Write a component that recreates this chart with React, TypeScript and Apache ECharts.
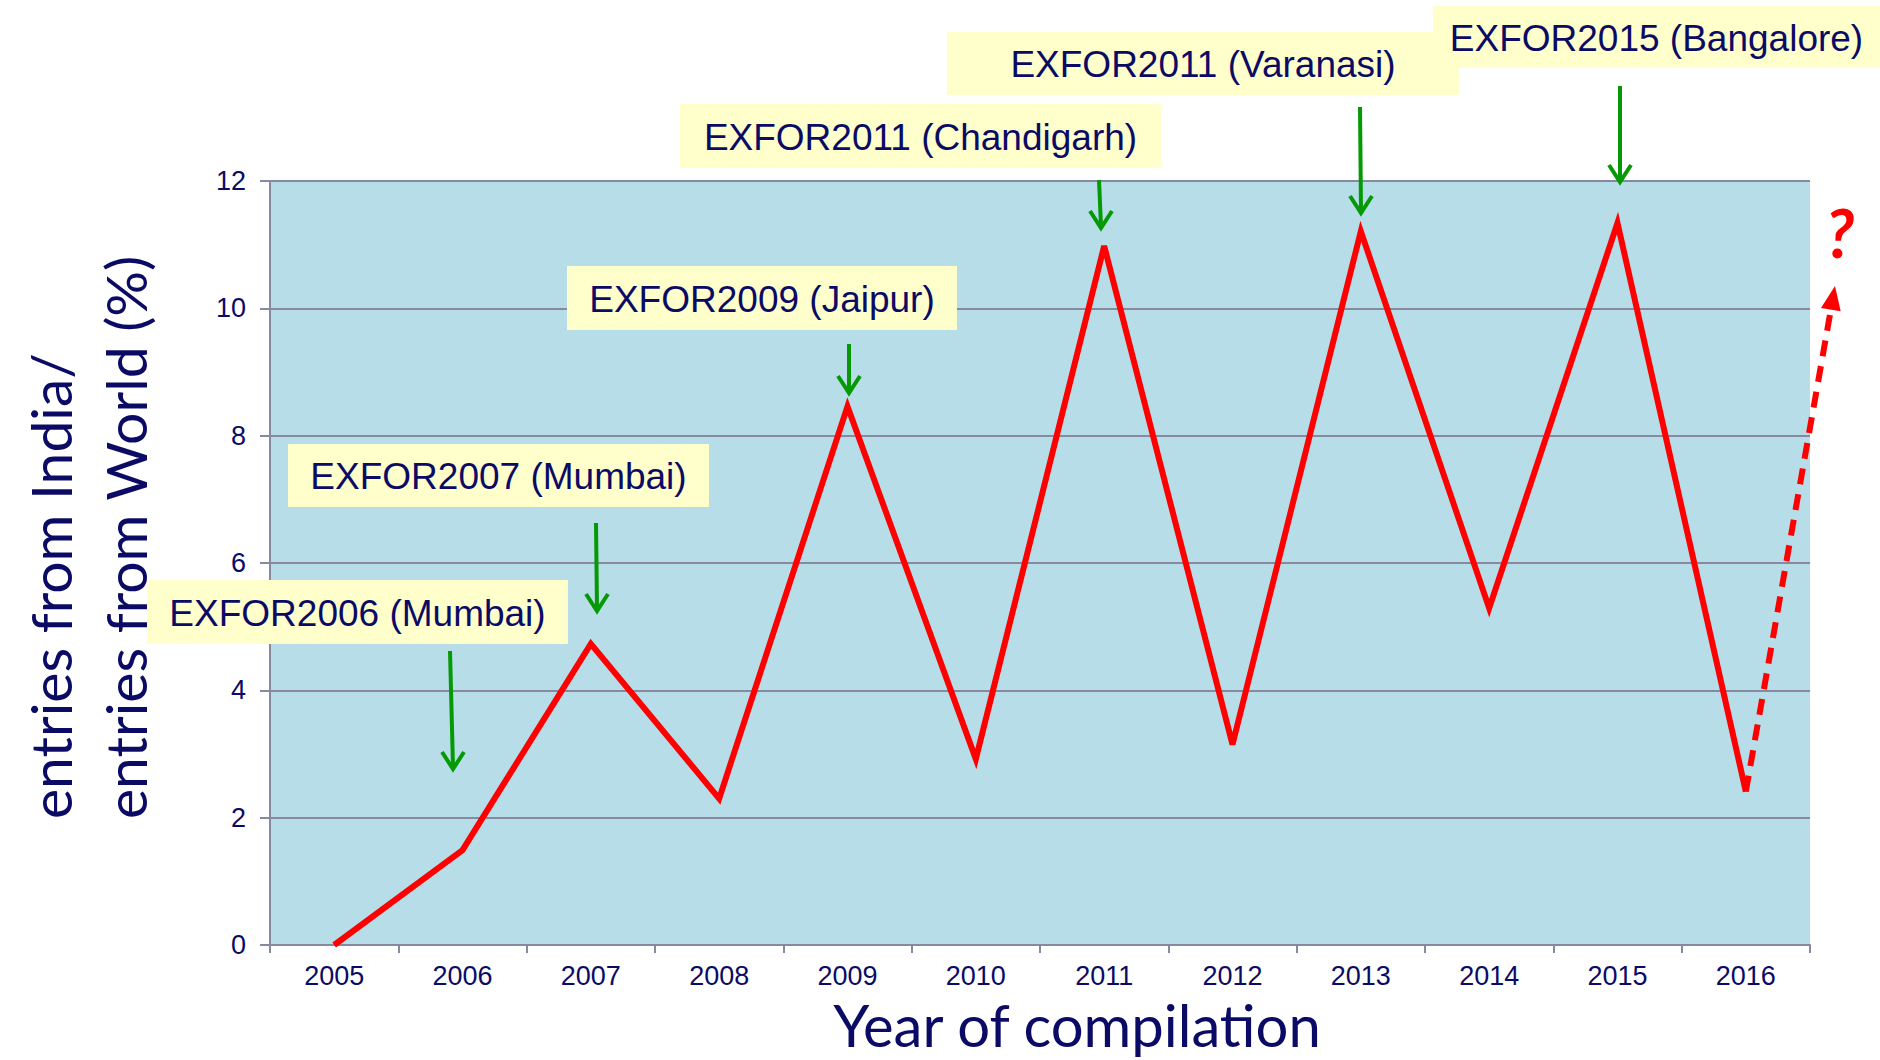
import React, { useEffect, useRef } from "react";
import * as echarts from "echarts";

const years = ["2005", "2006", "2007", "2008", "2009", "2010", "2011", "2012", "2013", "2014", "2015", "2016"];
const ratio = [0, 1.49, 4.73, 2.3, 8.46, 2.92, 10.98, 3.15, 11.21, 5.29, 11.34, 2.41];
const yMin = 0;
const yMax = 12;
const yStep = 2;

const meetingLabels = [
  "EXFOR2006 (Mumbai)",
  "EXFOR2007 (Mumbai)",
  "EXFOR2009 (Jaipur)",
  "EXFOR2011 (Chandigarh)",
  "EXFOR2011 (Varanasi)",
  "EXFOR2015 (Bangalore)",
];

// layout of annotation boxes and arrows (pixels)
const boxes = [
  { x: 147, y: 580, w: 421, h: 64, ax1: 450, ay1: 651, ax2: 453, ay2: 769 },
  { x: 288, y: 444, w: 421, h: 63, ax1: 596, ay1: 523, ax2: 597, ay2: 611 },
  { x: 567, y: 266, w: 390, h: 64, ax1: 849, ay1: 344, ax2: 849, ay2: 393 },
  { x: 680, y: 104, w: 481, h: 64, ax1: 1099, ay1: 180, ax2: 1101, ay2: 228 },
  { x: 947, y: 32, w: 512, h: 63, ax1: 1360, ay1: 107, ax2: 1361, ay2: 213 },
  { x: 1433, y: 6, w: 447, h: 62, ax1: 1620, ay1: 86, ax2: 1620, ay2: 182 },
];

const NAVY = "#0b0b66";
const GRID = "#878a9e";
const GREEN = "#059a05";
const RED = "#ff0000";

export default function App() {
  const ref = useRef<HTMLDivElement>(null);
  useEffect(() => {
    const chart = echarts.init(ref.current!, null, { renderer: "svg" });
    chart.setOption({
      animation: false,
      backgroundColor: "#ffffff",
      grid: {
        left: 270,
        right: 70,
        top: 181,
        bottom: 115,
        show: true,
        backgroundColor: "#b7dde8",
        borderWidth: 0,
      },
      xAxis: {
        type: "category",
        data: years,
        boundaryGap: true,
        axisLine: { show: true, lineStyle: { color: GRID, width: 2 } },
        axisTick: { show: true, length: 8, lineStyle: { color: GRID, width: 2 } },
        axisLabel: { color: NAVY, fontSize: 27, fontFamily: "Liberation Sans, Arial", margin: 17 },
        splitLine: { show: false },
      },
      yAxis: {
        type: "value",
        min: yMin,
        max: yMax,
        interval: yStep,
        axisLine: { show: true, lineStyle: { color: GRID, width: 2 } },
        axisTick: { show: true, length: 10, lineStyle: { color: GRID, width: 2 } },
        axisLabel: { color: NAVY, fontSize: 27, fontFamily: "Liberation Sans, Arial", margin: 24 },
        splitLine: { show: true, lineStyle: { color: GRID, width: 2 } },
      },
      series: [
        {
          type: "line",
          data: ratio,
          symbol: "none",
          lineStyle: { color: RED, width: 6, join: "miter" },
          z: 3,
        },
      ],
    });

    const last = ratio.length - 1;
    const start = chart.convertToPixel({ seriesIndex: 0 }, [last, ratio[last]]) as number[];
    const tip = [1835, 286];
    const dx = tip[0] - start[0];
    const dy = tip[1] - start[1];
    const len = Math.sqrt(dx * dx + dy * dy);
    const ux = dx / len;
    const uy = dy / len;
    const nx = -uy;
    const ny = ux;
    const headLen = 24;
    const headHalf = 10;
    const base = [tip[0] - ux * headLen, tip[1] - uy * headLen];

    const graphics: any[] = [];
    // y axis title
    graphics.push({
      type: "text",
      x: 50,
      y: 819,
      rotation: Math.PI / 2,
      style: { text: "entries from India/", fill: NAVY, font: '57px Lato, "Open Sans", sans-serif', align: "left", verticalAlign: "middle" },
    });
    graphics.push({
      type: "text",
      x: 125,
      y: 819,
      rotation: Math.PI / 2,
      style: { text: "entries from World (%)", fill: NAVY, font: '57px Lato, "Open Sans", sans-serif', align: "left", verticalAlign: "middle" },
    });
    // x axis title
    graphics.push({
      type: "text",
      x: 1077,
      y: 1024,
      style: { text: "Year of compilation", fill: NAVY, font: '58px Lato, "Open Sans", sans-serif', align: "center", verticalAlign: "middle" },
    });
    // dashed arrow
    graphics.push({
      type: "line",
      shape: { x1: start[0], y1: start[1], x2: base[0] + ux * 2, y2: base[1] + uy * 2 },
      style: { stroke: RED, lineWidth: 6, lineDash: [16, 10] },
      z: 10,
    });
    graphics.push({
      type: "polygon",
      shape: {
        points: [
          tip,
          [base[0] + nx * headHalf, base[1] + ny * headHalf],
          [base[0] - nx * headHalf, base[1] - ny * headHalf],
        ],
      },
      style: { fill: RED },
      z: 10,
    });
    graphics.push({
      type: "text",
      x: 1840,
      y: 232,
      style: { text: "?", fill: RED, font: 'italic bold 66px Lato, sans-serif', align: "center", verticalAlign: "middle" },
      z: 10,
    });
    // annotation boxes
    boxes.forEach((b, i) => {
      graphics.push({
        type: "rect",
        shape: { x: b.x, y: b.y, width: b.w, height: b.h },
        style: { fill: "#ffffcc" },
        z: 20 + i,
      });
      graphics.push({
        type: "text",
        x: b.x + b.w / 2,
        y: b.y + b.h / 2 + 1,
        style: { text: meetingLabels[i], fill: NAVY, font: '37px "Liberation Sans", Arial, sans-serif', align: "center", verticalAlign: "middle" },
        z: 20 + i,
      });
      graphics.push({
        type: "line",
        shape: { x1: b.ax1, y1: b.ay1, x2: b.ax2, y2: b.ay2 - 2 },
        style: { stroke: GREEN, lineWidth: 4 },
        z: 30,
      });
      graphics.push({
        type: "polyline",
        shape: { points: [[b.ax2 - 11, b.ay2 - 17], [b.ax2, b.ay2], [b.ax2 + 11, b.ay2 - 17]] },
        style: { stroke: GREEN, lineWidth: 4, fill: null },
        z: 30,
      });
    });

    chart.setOption({ graphic: graphics });

    return () => chart.dispose();
  }, []);
  return <div ref={ref} style={{ width: 1880, height: 1060, position: "absolute", left: 0, top: 0 }} />;
}
